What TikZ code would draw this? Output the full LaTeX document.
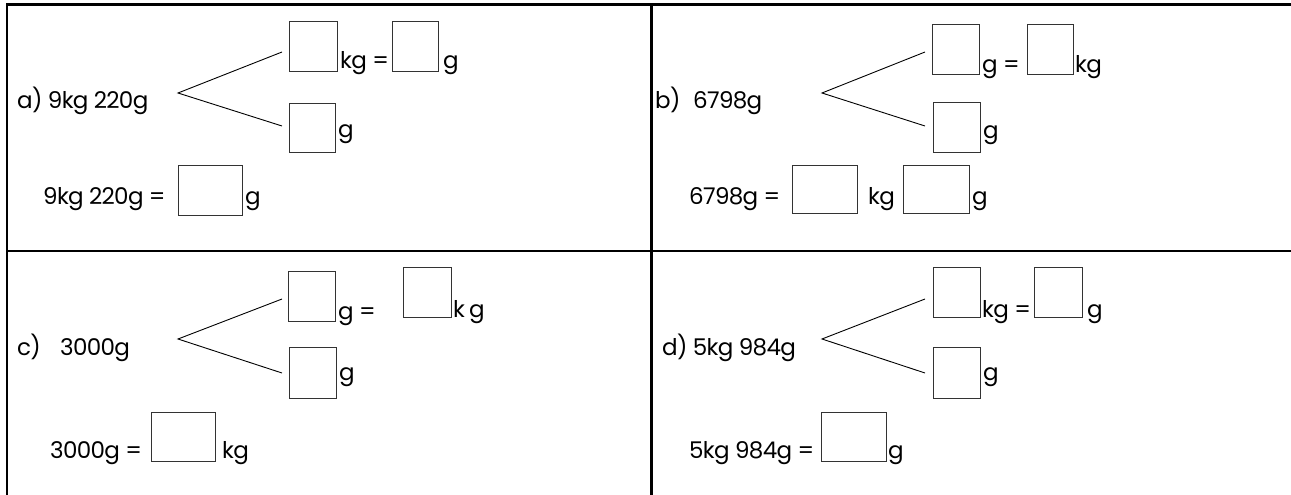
\documentclass[tikz,border=0pt]{standalone}
\usepackage{fontspec}
\setmainfont[LetterSpace=-3]{Poppins}
\newcommand{\txtfont}{\fontsize{23}{26}\selectfont}
\tikzset{
  lbl/.style={anchor=base west, inner sep=0pt, font=\txtfont},
  ansbox/.style={draw=black!80, line width=1pt, inner sep=0pt, anchor=north west},
  frame/.style={line width=2.4pt, black},
  branch/.style={line width=0.9pt, black}
}
\begin{document}
\begin{tikzpicture}[x=1pt,y=-1pt]
\useasboundingbox (0,0) rectangle (1291,495);
% frame
\coordinate (ftl) at (6.7,4.7);
\coordinate (ftr) at (1291,4.7);
\coordinate (fbl) at (6.7,495);
\coordinate (fml) at (6.7,250.7);
\coordinate (fmr) at (1291,250.7);
\coordinate (fmt) at (651.5,4.7);
\coordinate (fmb) at (651.5,495);
\draw[frame] (ftr) -- (ftl) -- (fbl);
\draw[frame] (fml) -- (fmr);
\draw[frame] (fmt) -- (fmb);

% ---------- panel a ----------
\node[lbl] (ta) at (17,108) {a) 9kg 220g};
\coordinate (pa) at (178,93);
\coordinate (ea1) at (282,52);
\coordinate (ea2) at (282,126);
\draw[branch] (ea1) -- (pa) -- (ea2);
\node[ansbox, minimum width=48pt, minimum height=50pt] (a1) at (289,21) {};
\node[lbl] (ua1) at (340,69) {kg =};
\node[ansbox, minimum width=46pt, minimum height=50pt] (a2) at (392,21) {};
\node[lbl] (ua2) at (443,69) {g};
\node[ansbox, minimum width=46pt, minimum height=49pt] (a3) at (289,103) {};
\node[lbl] (ua3) at (338,137) {g};
\node[lbl] (qa) at (43,204) {9kg 220g =};
\node[ansbox, minimum width=64pt, minimum height=50pt] (a4) at (178,165) {};
\node[lbl] (ua4) at (245,204) {g};

% ---------- panel b ----------
\node[lbl] (tb1) at (655,108) {b)};
\node[lbl] (tb2) at (693,108) {6798g};
\coordinate (pb) at (822,93);
\coordinate (eb1) at (925,52);
\coordinate (eb2) at (925,126);
\draw[branch] (eb1) -- (pb) -- (eb2);
\node[ansbox, minimum width=47pt, minimum height=50pt] (b1) at (932,24) {};
\node[lbl] (ub1) at (982,73) {g =};
\node[ansbox, minimum width=46pt, minimum height=50pt] (b2) at (1027,24) {};
\node[lbl] (ub2) at (1075,73) {kg};
\node[ansbox, minimum width=47pt, minimum height=50pt] (b3) at (933,102) {};
\node[lbl] (ub3) at (983,138) {g};
\node[lbl] (qb) at (689,204) {6798g =};
\node[ansbox, minimum width=65pt, minimum height=48pt] (b4) at (792,165) {};
\node[lbl] (ub4) at (868,204) {kg};
\node[ansbox, minimum width=66pt, minimum height=48pt] (b5) at (903,165) {};
\node[lbl] (ub5) at (972,204) {g};

% ---------- panel c ----------
\node[lbl] (tc1) at (17,355) {c)};
\node[lbl] (tc2) at (60,355) {3000g};
\coordinate (pc) at (178,339);
\coordinate (ec1) at (282,299);
\coordinate (ec2) at (282,373);
\draw[branch] (ec1) -- (pc) -- (ec2);
\node[ansbox, minimum width=47pt, minimum height=50pt] (c1) at (288,271) {};
\node[lbl] (uc1) at (338,319) {g =};
\node[ansbox, minimum width=48pt, minimum height=50pt] (c2) at (403,267) {};
\node[lbl] (uc2a) at (453,317) {k};
\node[lbl] (uc2b) at (469,317) {g};
\node[ansbox, minimum width=47pt, minimum height=51pt] (c3) at (289,347) {};
\node[lbl] (uc3) at (339,380) {g};
\node[lbl] (qc) at (50,458) {3000g =};
\node[ansbox, minimum width=64pt, minimum height=49pt] (c4) at (151,412) {};
\node[lbl] (uc4) at (222,458) {kg};

% ---------- panel d ----------
\node[lbl] (td) at (662,355) {d) 5kg 984g};
\coordinate (pd) at (822,339);
\coordinate (ed1) at (925,299);
\coordinate (ed2) at (925,373);
\draw[branch] (ed1) -- (pd) -- (ed2);
\node[ansbox, minimum width=47pt, minimum height=50pt] (d1) at (933,267) {};
\node[lbl] (ud1) at (982,317) {kg =};
\node[ansbox, minimum width=48pt, minimum height=50pt] (d2) at (1034,267) {};
\node[lbl] (ud2) at (1087,317) {g};
\node[ansbox, minimum width=47pt, minimum height=51pt] (d3) at (933,347) {};
\node[lbl] (ud3) at (983,380) {g};
\node[lbl] (qd) at (689,458) {5kg 984g =};
\node[ansbox, minimum width=65pt, minimum height=49pt] (d4) at (821,412) {};
\node[lbl] (ud4) at (888,458) {g};
\end{tikzpicture}
\end{document}
